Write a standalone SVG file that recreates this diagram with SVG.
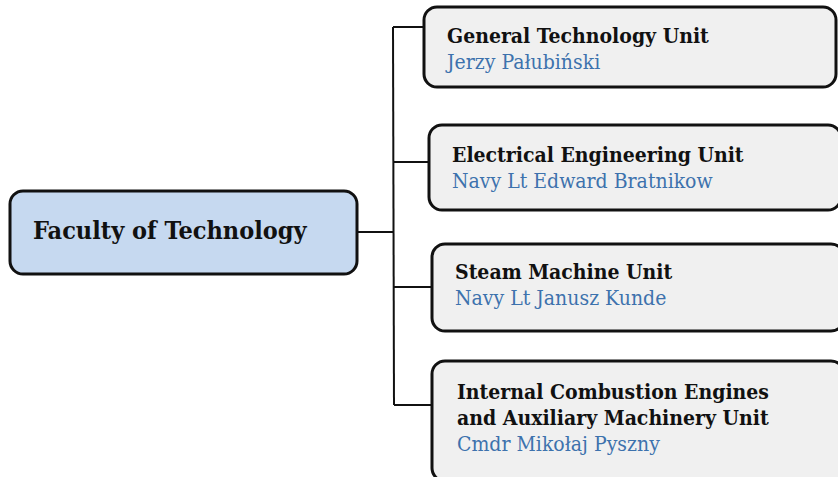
<svg xmlns="http://www.w3.org/2000/svg" width="838" height="477" viewBox="0 0 838 477">
<style>
.box{stroke:#111;stroke-width:3;}
.unit{fill:#f0f0f0;}
.root{fill:#c6d9f0;}
.t{font-family:"DejaVu Serif Condensed","DejaVu Serif","Liberation Serif",serif;font-stretch:condensed;font-weight:bold;font-size:21px;fill:#111;}
.n{font-family:"DejaVu Serif Condensed","DejaVu Serif","Liberation Serif",serif;font-stretch:condensed;font-size:21px;fill:#3d72ad;}
.rt{font-family:"DejaVu Serif Condensed","DejaVu Serif","Liberation Serif",serif;font-stretch:condensed;font-weight:bold;font-size:25px;fill:#111;}
.c{stroke:#111;stroke-width:2;fill:none;}
</style>
<g id="connectors">
<line class="c" x1="393" y1="27" x2="394" y2="405"/>
<line class="c" x1="357" y1="232" x2="394" y2="232"/>
<line class="c" x1="393" y1="27" x2="424" y2="27"/>
<line class="c" x1="393" y1="162" x2="429" y2="162"/>
<line class="c" x1="394" y1="287" x2="432" y2="287"/>
<line class="c" x1="394" y1="405" x2="432" y2="405"/>
</g>
<g id="root">
<rect class="box root" x="10" y="191" width="347" height="83" rx="13"/>
<text class="rt" x="33" y="239">Faculty of Technology</text>
</g>
<g id="unit1">
<rect class="box unit" x="424" y="7" width="412" height="80" rx="13"/>
<text class="t" x="447" y="43">General Technology Unit</text>
<text class="n" x="447" y="69">Jerzy Pałubiński</text>
</g>
<g id="unit2">
<rect class="box unit" x="429" y="125" width="412" height="85" rx="13"/>
<text class="t" x="452" y="162">Electrical Engineering Unit</text>
<text class="n" x="452" y="188">Navy Lt Edward Bratnikow</text>
</g>
<g id="unit3">
<rect class="box unit" x="432" y="244" width="412" height="87" rx="13"/>
<text class="t" x="455" y="279">Steam Machine Unit</text>
<text class="n" x="455" y="305">Navy Lt Janusz Kunde</text>
</g>
<g id="unit4">
<rect class="box unit" x="432" y="361" width="412" height="120" rx="13"/>
<text class="t" x="457" y="399">Internal Combustion Engines</text>
<text class="t" x="457" y="425">and Auxiliary Machinery Unit</text>
<text class="n" x="457" y="451">Cmdr Mikołaj Pyszny</text>
</g>
</svg>
